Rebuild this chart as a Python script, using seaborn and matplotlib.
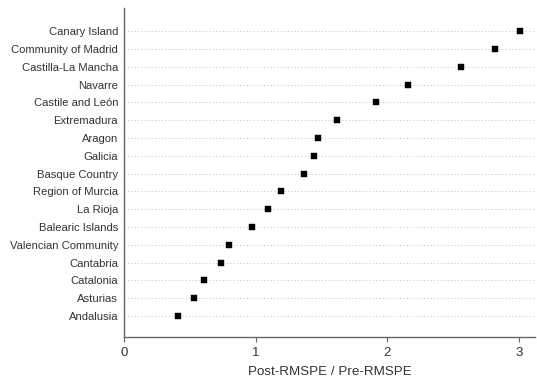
import matplotlib
matplotlib.use("Agg")
import matplotlib.pyplot as plt
import seaborn as sns
import pandas as pd

regions = ["Canary Island", "Community of Madrid", "Castilla-La Mancha", "Navarre",
           "Castile and León", "Extremadura", "Aragon", "Galicia", "Basque Country",
           "Region of Murcia", "La Rioja", "Balearic Islands", "Valencian Community",
           "Cantabria", "Catalonia", "Asturias", "Andalusia"]
ratio = [3.01, 2.82, 2.56, 2.16, 1.91, 1.62, 1.47, 1.44, 1.37,
         1.19, 1.09, 0.97, 0.80, 0.74, 0.61, 0.53, 0.41]

df = pd.DataFrame({"region": regions, "ratio": ratio})

sns.set_style("white")
plt.rcParams["font.family"] = ["Liberation Sans", "DejaVu Sans"]

fig = plt.figure(figsize=(5.37, 3.87), dpi=100)
ax = fig.add_axes([0.231, 0.129, 0.765, 0.850])

# dotted guide line for every region
for i in range(len(regions)):
    ax.axhline(i, color="#bdbdbd", lw=0.7, ls=(0, (1, 2.5)), zorder=0)

sns.scatterplot(data=df, x="ratio", y="region", marker="s", color="black",
                s=22, edgecolor="black", linewidth=0.3, ax=ax, zorder=3)

ax.set_xlim(0, 3.12)
ax.set_ylim(len(regions) - 1 + 1.18, -1.29)
ax.set_xticks([0, 1, 2, 3])
ax.set_xticklabels(["0", "1", "2", "3"])
ax.set_xlabel("Post-RMSPE / Pre-RMSPE", fontsize=9.6, color="#333333", labelpad=5)
ax.set_ylabel("")

for side in ["top", "right"]:
    ax.spines[side].set_visible(False)
for side in ["left", "bottom"]:
    ax.spines[side].set_color("#666666")
    ax.spines[side].set_linewidth(1.0)

ax.tick_params(axis="x", bottom=True, length=3.5, width=0.8, color="#666666",
               labelsize=9.5, labelcolor="#333333", pad=4)
ax.tick_params(axis="y", left=False, length=0, labelsize=8.1, labelcolor="#333333", pad=4.3)

fig.savefig("out.png", dpi=100)
